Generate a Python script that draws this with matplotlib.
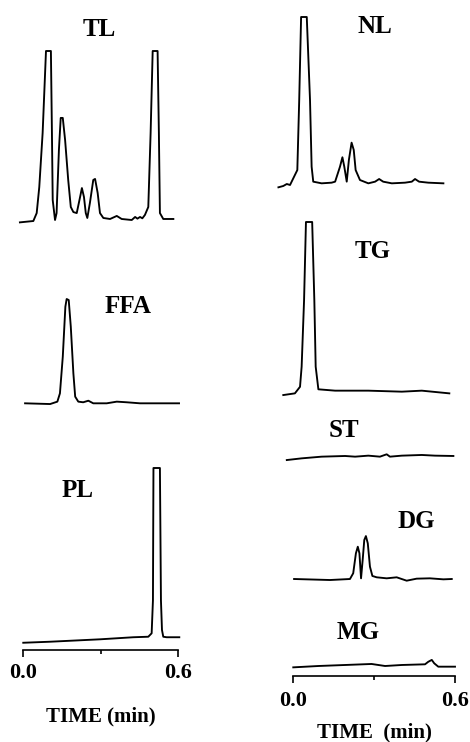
import matplotlib.pyplot as plt

# chromatogram traces: time (min), signal (% of full scale)
tl_time = [-0.012, 0.040, 0.053, 0.063, 0.076, 0.089, 0.108, 0.112, 0.115, 0.124,
           0.130, 0.139, 0.146, 0.154, 0.163, 0.175, 0.185, 0.195, 0.208, 0.221,
           0.228, 0.236, 0.243, 0.249, 0.259, 0.272, 0.279, 0.289, 0.298, 0.311,
           0.337, 0.363, 0.382, 0.421, 0.434, 0.443, 0.453, 0.462, 0.472, 0.485,
           0.494, 0.502, 0.521, 0.526, 0.530, 0.543, 0.582]
tl_signal = [-1.4, -0.6, 4.1, 19.5, 51.5, 100, 100, 51.5, 11.8, 0,
             4.1, 41.4, 60.4, 60.4, 47.3, 23.7, 7.7, 4.7, 4.1, 13.6,
             18.9, 13.6, 4.1, 1.2, 10.1, 23.7, 24.3, 16.0, 4.1, 1.2,
             0.6, 2.4, 0.6, 0, 1.8, 0.8, 1.8, 1.0, 3.0, 7.7,
             51.5, 100, 100, 51.5, 4.1, 0.6, 0.6]

ffa_time = [0.008, 0.105, 0.133, 0.143, 0.154, 0.164, 0.169, 0.177, 0.185, 0.195,
            0.202, 0.214, 0.233, 0.253, 0.272, 0.324, 0.363, 0.401, 0.453, 0.604]
ffa_signal = [-0.3, -1.0, 1.3, 9.3, 44.5, 92.6, 100, 99.0, 73.4, 28.5,
              6.1, 1.3, 0.7, 2.2, -0.3, -0.3, 1.3, 0.7, -0.3, -0.3]

pl_time = [0.001, 0.105, 0.298, 0.427, 0.485, 0.498, 0.503, 0.505, 0.530, 0.534,
           0.538, 0.543, 0.556, 0.605]
pl_signal = [-1.6, -1.0, 0.4, 1.6, 1.9, 3.9, 23.0, 100, 100, 23.0,
             5.8, 1.9, 1.6, 1.6]

nl_time = [-0.054, -0.036, -0.023, -0.011, 0.001, 0.016, 0.023, 0.030, 0.051, 0.063,
           0.069, 0.075, 0.106, 0.143, 0.156, 0.174, 0.183, 0.190, 0.199, 0.207,
           0.217, 0.225, 0.232, 0.248, 0.279, 0.304, 0.319, 0.334, 0.366, 0.415,
           0.440, 0.452, 0.467, 0.501, 0.557]
nl_signal = [-2.6, -1.8, -0.6, -1.2, 2.8, 7.8, 50, 100, 100, 50,
             9.8, 0.8, -0.2, 0.2, 0.8, 9.8, 15.5, 9.8, 0.8, 13.9,
             24.3, 19.9, 7.8, 1.8, -0.2, 0.8, 2.4, 0.8, -0.2, 0.2,
             0.8, 2.4, 0.8, 0.2, -0.2]

tg_time = [-0.036, 0.007, 0.026, 0.032, 0.041, 0.048, 0.071, 0.079, 0.084, 0.094,
           0.156, 0.279, 0.403, 0.477, 0.579]
tg_signal = [-2.4, -1.4, 2.5, 14.4, 53.8, 100, 100, 53.8, 14.4, 1.0,
             0.2, 0.2, -0.4, 0.2, -1.4]

st_time = [-0.023, 0.032, 0.106, 0.193, 0.230, 0.279, 0.322, 0.347, 0.359, 0.403,
           0.477, 0.526, 0.594]
st_signal = [-1.8, -0.8, 0.2, 0.6, 0.2, 0.8, 0.2, 1.6, 0.2, 0.8,
             1.2, 0.8, 0.6]

dg_time = [0.004, 0.137, 0.211, 0.223, 0.233, 0.240, 0.246, 0.252, 0.258, 0.264,
           0.270, 0.277, 0.285, 0.294, 0.310, 0.347, 0.384, 0.421, 0.458, 0.507,
           0.557, 0.588]
dg_signal = [0, -0.6, 0, 3.4, 15.2, 19.1, 15.2, 0.4, 11.2, 23.1,
             25.4, 21.1, 7.3, 1.8, 1.0, 0.4, 1.0, -1.0, 0.2, 0.4,
             -0.2, 0]

mg_time = [0.001, 0.094, 0.193, 0.291, 0.341, 0.403, 0.489, 0.501, 0.514, 0.523,
           0.538, 0.600]
mg_signal = [-0.8, 0, 0.6, 1.2, 0, 0.6, 1.0, 2.5, 3.6, 1.6,
             -0.4, -0.4]

W, H = 470, 742
FONT = 'Liberation Serif'

# column x extents in pixels for t = 0 and t = 0.6
columns = {'left': (23, 178), 'right': (293, 455)}

# (label, column, data, baseline px, full-scale px, label x, label baseline y)
panels = [
    ('TL', 'left', (tl_time, tl_signal), 220, 169, 99, 36),
    ('FFA', 'left', (ffa_time, ffa_signal), 403, 104, 128, 313),
    ('PL', 'left', (pl_time, pl_signal), 640, 172, 78, 497),
    ('NL', 'right', (nl_time, nl_signal), 183, 166, 375, 33),
    ('TG', 'right', (tg_time, tg_signal), 391, 169, 373, 258),
    ('ST', 'right', (st_time, st_signal), 457, 169, 344, 437),
    ('DG', 'right', (dg_time, dg_signal), 579, 169, 416, 528),
    ('MG', 'right', (mg_time, mg_signal), 666, 169, 358, 639),
]


def px_axes(fig, x0, x1, y_base, height):
    return fig.add_axes([x0 / W, 1 - y_base / H, (x1 - x0) / W, height / H])


def main():
    fig = plt.figure(figsize=(W / 100, H / 100), dpi=100)

    for name, col, (t, s), base, full, lx, ly in panels:
        x0, x1 = columns[col]
        ax = px_axes(fig, x0, x1, base, full)
        ax.plot(t, s, color='black', lw=1.35, clip_on=False, solid_joinstyle='round')
        ax.set_xlim(0, 0.6)
        ax.set_ylim(0, 100)
        ax.axis('off')
        fig.text(lx / W, 1 - ly / H, name, ha='center', va='baseline',
                 family=FONT, weight='bold', fontsize=18)

    # time axes under each column
    for col, y_axis, pad, xlab, ylab in [('left', 650, 4.5, 'TIME (min)', 721),
                                         ('right', 676, 6.0, 'TIME  (min)', 737)]:
        x0, x1 = columns[col]
        ax = px_axes(fig, x0, x1, y_axis, 1)
        ax.set_xlim(0, 0.6)
        for side in ['top', 'left', 'right']:
            ax.spines[side].set_visible(False)
        ax.spines['bottom'].set_linewidth(1.2)
        ax.set_yticks([])
        ax.set_xticks([0, 0.6])
        ax.set_xticklabels(['0.0', '0.6'])
        ax.set_xticks([0.3], minor=True)
        ax.tick_params(axis='x', which='major', length=5, width=1.2, pad=pad,
                       labelsize=16)
        ax.tick_params(axis='x', which='minor', length=3, width=1.2)
        for lab in ax.get_xticklabels():
            lab.set_family(FONT)
            lab.set_weight('bold')
        ax.patch.set_visible(False)
        fig.text((x0 + x1) / 2 / W, 1 - ylab / H, xlab, ha='center', va='baseline',
                 family=FONT, weight='bold', fontsize=15)

    fig.savefig('out.png', dpi=100)


if __name__ == "__main__":
    main()
